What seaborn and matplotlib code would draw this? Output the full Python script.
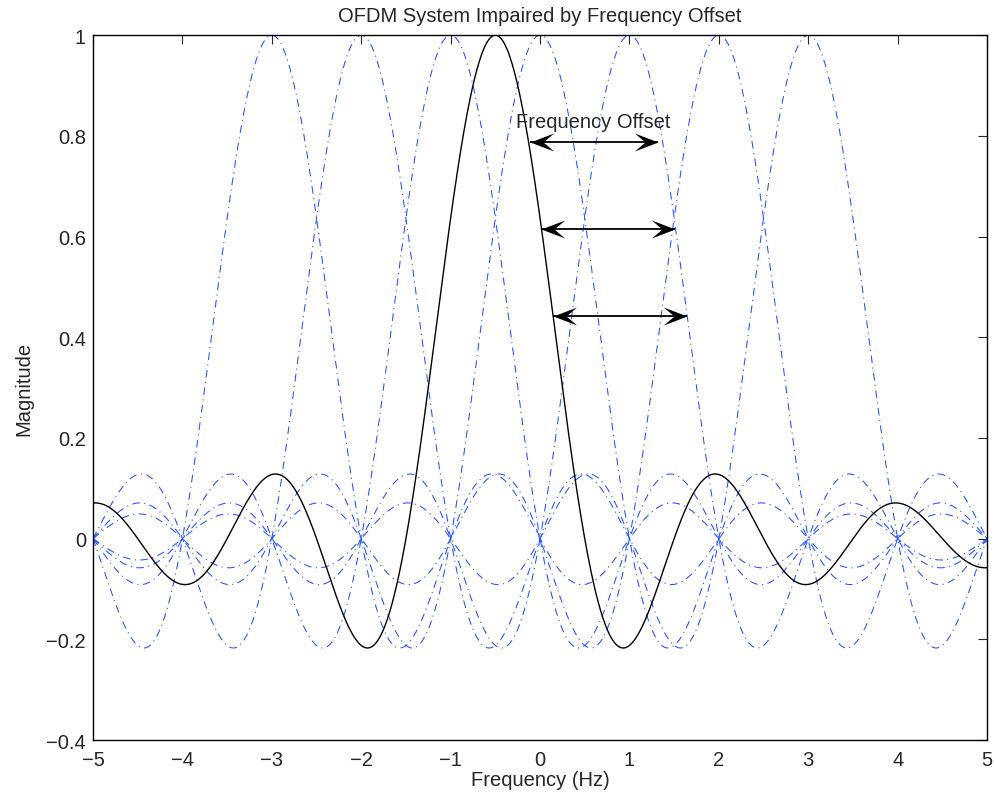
import numpy as np
import pandas as pd
import matplotlib
matplotlib.use("Agg")
import matplotlib.pyplot as plt
from matplotlib.path import Path
import seaborn as sns

# ---- data ----
subcarrier_centers = [-3, -2, -1, 0, 1, 2, 3]   # blue dash-dot subcarriers (Hz)
offset_center = -0.5                            # black solid, offset subcarrier (Hz)
freq_range = [-5, 5]
arrow_starts = [-0.11, 0.01, 0.145]
arrow_ends = [1.32, 1.51, 1.64]
arrow_levels = [0.788, 0.615, 0.442]
annotation_text = "Frequency Offset"
annotation_pos = (0.6, 0.828)
xticks = [-5, -4, -3, -2, -1, 0, 1, 2, 3, 4, 5]
yticks = [-0.4, -0.2, 0, 0.2, 0.4, 0.6, 0.8, 1]

f = np.linspace(freq_range[0], freq_range[1], 2001)
blue_df = pd.concat([pd.DataFrame({"f": f, "mag": np.sinc(f - c), "center": c})
                     for c in subcarrier_centers], ignore_index=True)
black_df = pd.DataFrame({"f": f, "mag": np.sinc(f - offset_center)})

sns.set_style("white")
plt.rcParams["font.family"] = ["Liberation Sans", "DejaVu Sans"]
plt.rcParams["axes.unicode_minus"] = True
plt.rcParams["lines.scale_dashes"] = False

FS = 14.5
fig = plt.figure(figsize=(9.95, 8.03), dpi=100)
ax = fig.add_axes([0.0935, 0.0772, 0.8985, 0.8778])

blue = "#2352ff"
sns.lineplot(data=blue_df, x="f", y="mag", style="center",
             dashes={c: (5.5, 3.2, 0.8, 3.2) for c in subcarrier_centers},
             color=blue, lw=0.75, legend=False, ax=ax, estimator=None)
sns.lineplot(data=black_df, x="f", y="mag", color="black", lw=1.0, ax=ax,
             estimator=None)

# notched ("stealth") arrowheads, tip at origin
right_head = Path([(0, 0), (-1, 0.38), (-0.55, 0), (-1, -0.38), (0, 0)],
                  [Path.MOVETO, Path.LINETO, Path.LINETO, Path.LINETO, Path.CLOSEPOLY])
left_head = Path([(0, 0), (1, 0.38), (0.55, 0), (1, -0.38), (0, 0)],
                 [Path.MOVETO, Path.LINETO, Path.LINETO, Path.LINETO, Path.CLOSEPOLY])
for x0, x1, y in zip(arrow_starts, arrow_ends, arrow_levels):
    ax.plot([x0, x1], [y, y], color="black", lw=1.3, solid_capstyle="butt")
    ax.plot([x0], [y], marker=left_head, markersize=34, color="black",
            markeredgewidth=0, linestyle="none")
    ax.plot([x1], [y], marker=right_head, markersize=34, color="black",
            markeredgewidth=0, linestyle="none")
ax.text(annotation_pos[0], annotation_pos[1], annotation_text, ha="center",
        va="center", fontsize=FS)

ax.set_xlim(freq_range)
ax.set_ylim(-0.4, 1.0)
ax.set_xticks(xticks)
ax.set_yticks(yticks)
ax.set_xticklabels([f"{t:g}".replace("-", "\u2212") for t in xticks])
ax.set_yticklabels([f"{t:g}".replace("-", "\u2212") for t in yticks])
ax.tick_params(direction="in", length=6.5, width=0.8, top=True, right=True,
               labelsize=FS)
ax.tick_params(axis="x", pad=7)
ax.tick_params(axis="y", pad=5)
for s in ax.spines.values():
    s.set_linewidth(1.0)
    s.set_color("black")
ax.set_xlabel("Frequency (Hz)", fontsize=FS, labelpad=1)
ax.set_ylabel("Magnitude", fontsize=FS, labelpad=9)
ax.set_title("OFDM System Impaired by Frequency Offset", fontsize=FS, pad=10)

fig.savefig("out.png", dpi=100)
